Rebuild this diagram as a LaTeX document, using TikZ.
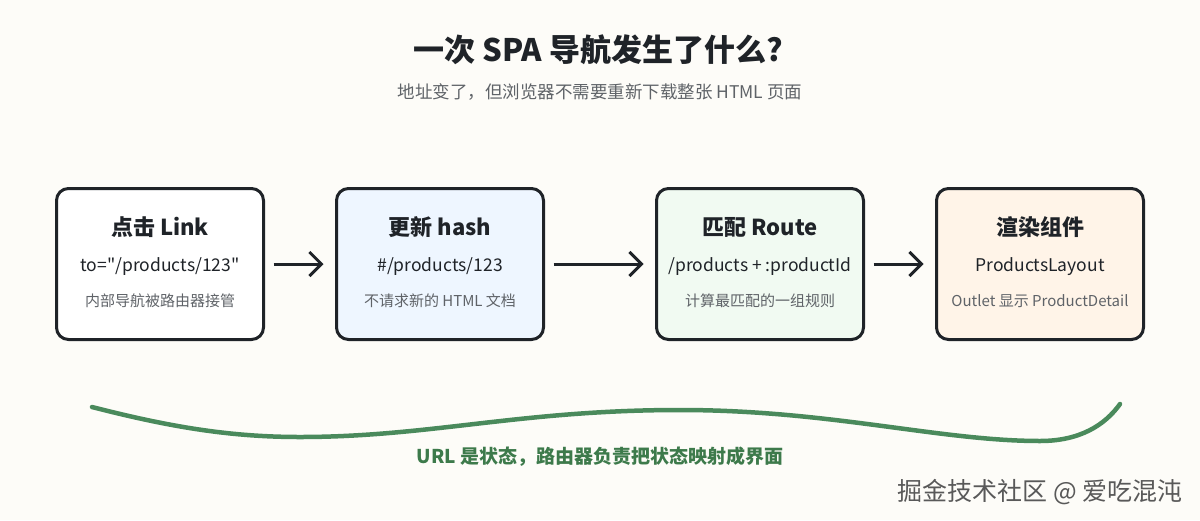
\documentclass[tikz,border=0pt]{standalone}
\usepackage{fontspec}
\setmainfont{Noto Sans CJK SC}[Ligatures=TeXOff]
\usetikzlibrary{positioning,arrows.meta}
\definecolor{ink}{HTML}{1F2328}
\definecolor{paper}{HTML}{FDFCF8}
\definecolor{muted}{HTML}{5F6368}
\definecolor{fillblue}{HTML}{EEF6FF}
\definecolor{fillgreen}{HTML}{F1FAF2}
\definecolor{fillorange}{HTML}{FFF4E8}
\definecolor{wave}{HTML}{4A8A5C}
\definecolor{wavetext}{HTML}{3D7A4B}

\tikzset{
    stage/.style={draw=ink, line width=3pt, rounded corners=12pt, outer sep=0pt,
        minimum width=207pt, minimum height=151pt},
    head/.style={font=\fontsize{22}{26}\selectfont\bfseries, text=ink},
    detail/.style={font=\fontsize{17.5}{20}\selectfont, text=ink},
    note/.style={font=\fontsize{15}{17}\selectfont, text=muted},
    flow/.style={draw=ink, line width=3pt, -{Straight Barb[length=12pt,width=24pt]},
        shorten <=10pt, shorten >=13pt}
}

\begin{document}
\begin{tikzpicture}[x=1pt,y=-1pt]
    \fill[paper] (0,0) rectangle (1200,520);
    \useasboundingbox (0,0) rectangle (1200,520);

    \node[font=\fontsize{31}{36}\selectfont\bfseries, text=ink] (title) at (598,50) {一次 SPA 导航发生了什么?};
    \node[font=\fontsize{17.5}{21}\selectfont, text=muted] (subtitle) at (600,92) {地址变了，但浏览器不需要重新下载整张 HTML 页面};

    \node[stage, fill=white] (b1) at (160,264) {};
    \node[stage, fill=fillblue, right=73pt of b1] (b2) {};
    \node[stage, fill=fillgreen, right=113pt of b2] (b3) {};
    \node[stage, fill=fillorange, right=73pt of b3] (b4) {};

    \node[head] (h1) at ([yshift=37pt]b1.center) {点击 Link};
    \node[detail] (d1) at ([yshift=-3pt]b1.center) {to="/products/123"};
    \node[note] (n1) at ([yshift=-37pt]b1.center) {内部导航被路由器接管};

    \node[head] (h2) at ([yshift=37pt]b2.center) {更新 hash};
    \node[detail] (d2) at ([yshift=-3pt]b2.center) {\#/products/123};
    \node[note] (n2) at ([yshift=-37pt]b2.center) {不请求新的 HTML 文档};

    \node[head] (h3) at ([yshift=37pt]b3.center) {匹配 Route};
    \node[detail] (d3) at ([yshift=-3pt]b3.center) {/products + :productId};
    \node[note] (n3) at ([yshift=-37pt]b3.center) {计算最匹配的一组规则};

    \node[head] (h4) at ([yshift=37pt]b4.center) {渲染组件};
    \node[detail] (d4) at ([yshift=-3pt]b4.center) {ProductsLayout};
    \node[note] (n4) at ([yshift=-37pt]b4.center) {Outlet 显示 ProductDetail};

    \foreach \a/\b in {b1/b2,b2/b3,b3/b4} {
        \draw[flow] (\a) -- (\b);
    }

    % state -> view
    \draw[wave, line width=4.5pt, line cap=round]
        (92,407) .. controls (170,427) and (230,437) .. (300,437)
        .. controls (430,437) and (520,410) .. (680,410)
        .. controls (830,410) and (940,441) .. (1040,441)
        .. controls (1080,441) and (1105,425) .. (1120,404);
    \node[font=\fontsize{19}{23}\selectfont\bfseries, text=wavetext] (caption) at (600,457) {URL 是状态，路由器负责把状态映射成界面};

    \node[font=\fontsize{25}{29}\selectfont, text=black!65] (mark) at (1040,492) {掘金技术社区 @ 爱吃混沌};
\end{tikzpicture}
\end{document}
